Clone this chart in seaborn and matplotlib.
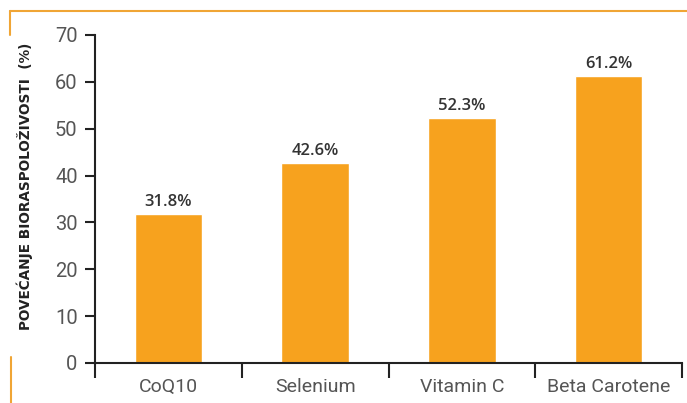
import matplotlib
matplotlib.use("Agg")
import matplotlib.pyplot as plt
from matplotlib.lines import Line2D
import numpy as np
import pandas as pd
import seaborn as sns

# data
categories = ["CoQ10", "Selenium", "Vitamin C", "Beta Carotene"]
increase_pct = [31.8, 42.6, 52.3, 61.2]
y_ticks = [0, 10, 20, 30, 40, 50, 60, 70]
y_label = "POVEĆANJE BIORASPOLOŽIVOSTI  (%)"

BAR_COLOR = "#F7A21E"
FRAME_COLOR = "#F0A535"
TICK_FONT = ["Roboto", "DejaVu Sans"]
LABEL_FONT = ["Liberation Sans Narrow", "DejaVu Sans"]

sns.set_style("white")

df = pd.DataFrame({"category": categories, "value": increase_pct})

fig = plt.figure(figsize=(6.87, 4.03), dpi=100)
ax = fig.add_axes([95 / 687, 1 - 363 / 403, 587 / 687, 328 / 403])

sns.barplot(data=df, x="category", y="value", color=BAR_COLOR,
            saturation=1, width=0.46, ax=ax)

ax.bar_label(ax.containers[0], fmt="%.1f%%", padding=3,
             fontsize=12, fontweight="semibold", color="#333333",
             family=["Open Sans", "DejaVu Sans"])

ax.set_ylim(0, 70)
ax.set_xlim(-0.5, len(categories) - 0.5)
ax.set_yticks(y_ticks)
ax.set_yticklabels([str(t) for t in y_ticks], family=TICK_FONT,
                   fontsize=14.5, color="#555555")

# boundaries as major ticks, labels on minor ticks at bar centres
ax.set_xticks(np.arange(len(categories) + 1) - 0.5)
ax.set_xticklabels([])
ax.set_xticks(np.arange(len(categories)), minor=True)
ax.set_xticklabels(categories, minor=True, family=TICK_FONT,
                   fontsize=14, color="#555555")
ax.tick_params(axis="x", which="major", direction="out", length=11,
               width=1.5, color="#222222", bottom=True)
ax.tick_params(axis="x", which="minor", length=0, pad=11)
ax.tick_params(axis="y", direction="out", length=7.5, width=1.5,
               color="#222222", left=True, pad=5)

ax.set_xlabel("")
ax.set_ylabel(y_label, fontsize=9.8, fontweight="bold", color="#222222",
              family=LABEL_FONT)
ax.yaxis.set_label_coords(-0.106, 0.54)

for side in ["top", "right"]:
    ax.spines[side].set_visible(False)
for side in ["left", "bottom"]:
    ax.spines[side].set_color("#222222")
    ax.spines[side].set_linewidth(1.5)

# orange frame fragments around the figure
W, H = 687, 403
fig.add_artist(Line2D([10 / W, 1], [1 - 11 / H, 1 - 11 / H],
                      transform=fig.transFigure, color=FRAME_COLOR, lw=1.5))
fig.add_artist(Line2D([10 / W, 10 / W], [1 - 11 / H, 1 - 35 / H],
                      transform=fig.transFigure, color=FRAME_COLOR, lw=1.5))
fig.add_artist(Line2D([11 / W, 11 / W], [1 - 357 / H, 0],
                      transform=fig.transFigure, color=FRAME_COLOR, lw=1.5))

fig.savefig("out.png", dpi=100)
